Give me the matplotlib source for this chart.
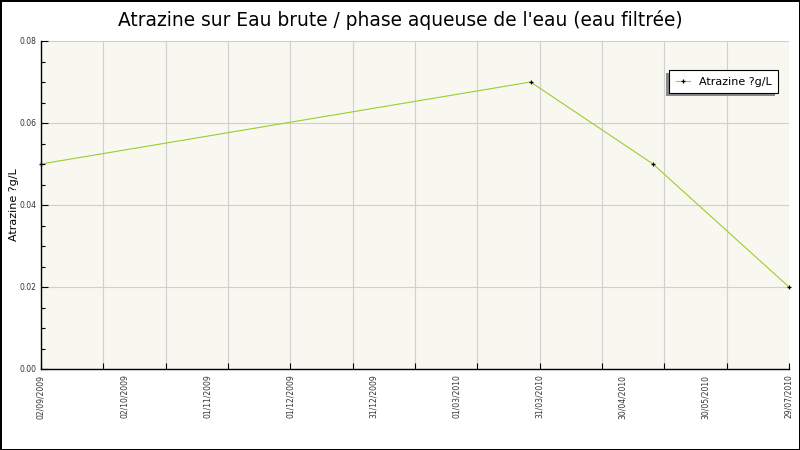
"""Atrazine sur Eau brute - recreation du graphique."""
import matplotlib; matplotlib.use('Agg')  # noqa: E702
import matplotlib.pyplot as plt
from matplotlib.patches import Rectangle
from matplotlib.transforms import IdentityTransform
from datetime import date
import numpy as np

TITLE = "Atrazine sur Eau brute / phase aqueuse de l'eau (eau filtrée)"
SERIES = 'Atrazine ?g/L'
sample_dates = [date(2009, 9, 2), date(2010, 4, 6), date(2010, 5, 30), date(2010, 7, 29)]
values = [0.05, 0.07, 0.05, 0.02]
tick_labels = ['02/09/2009', '02/10/2009', '01/11/2009', '01/12/2009', '31/12/2009',
               '01/03/2010', '31/03/2010', '30/04/2010', '30/05/2010', '29/07/2010']

start = sample_dates[0]
days = [(d - start).days for d in sample_dates]
span = days[-1]

fig = plt.figure(figsize=(8, 4.5), dpi=100)
fig.patch.set_facecolor('white')
fig.patch.set_edgecolor('black')
fig.patch.set_linewidth(2)

ax = fig.add_axes([41 / 800, 81 / 450, 748 / 800, 328 / 450])
ax.set_facecolor('#f8f8f0')
ax.plot(days, values, color='#9acd32', lw=0.8, marker='+', ms=3,
        mec='black', mew=0.9, label=SERIES, zorder=3, clip_on=False)

ax.set_xlim(0, span)
ax.set_ylim(0, 0.08)

# tick marks + grid every 1/12 of the span, labels evenly spread
ax.xaxis.remove_overlapping_locs = False
ax.set_xticks(np.linspace(0, span, 13))
ax.set_xticklabels([])
ax.set_xticks(np.linspace(0, span, len(tick_labels)), minor=True)
ax.set_xticklabels(tick_labels, minor=True, rotation=90, fontsize=5.5, color='#333333')
ax.tick_params(axis='x', which='major', direction='in', length=4, width=0.8)
ax.tick_params(axis='x', which='minor', length=0, pad=4)

ax.set_yticks(np.arange(0, 0.081, 0.02))
ax.set_yticklabels([f'{v:.2f}' for v in np.arange(0, 0.081, 0.02)], fontsize=5.5, color='#333333')
ax.set_yticks(np.arange(0, 0.081, 0.005), minor=True)
ax.tick_params(axis='y', which='major', direction='in', length=5, width=0.8)
ax.tick_params(axis='y', which='minor', direction='in', length=3, width=0.8)

ax.grid(True, which='major', color='#d0d0d0', lw=0.8)
ax.set_axisbelow(True)
for s in ['top', 'right']:
    ax.spines[s].set_visible(False)
for s in ['left', 'bottom']:
    ax.spines[s].set_linewidth(1.0)

fig.text(14 / 800, 1 - 205 / 450, SERIES, rotation=90, ha='center', va='center', fontsize=8)
fig.text(0.5, 1 - 20 / 450, TITLE, ha='center', va='center', fontsize=13.4)

leg = ax.legend(loc='upper left', bbox_to_anchor=(669 / 800, 1 - 70 / 450),
                bbox_transform=fig.transFigure, fontsize=8, frameon=True,
                fancybox=False, edgecolor='black', framealpha=1,
                handlelength=1.3, borderpad=0.6, borderaxespad=0)
leg.get_frame().set_linewidth(0.8)
leg.set_zorder(6)

fig.canvas.draw()
bb = leg.get_window_extent()
shadow = Rectangle((bb.x0 - 3, bb.y0 - 3), bb.width, bb.height,
                   transform=IdentityTransform(), clip_on=False,
                   facecolor='#888888', edgecolor='none', zorder=5)
ax.add_artist(shadow)

fig.savefig('out.png', dpi=100)
plt.close(fig)
